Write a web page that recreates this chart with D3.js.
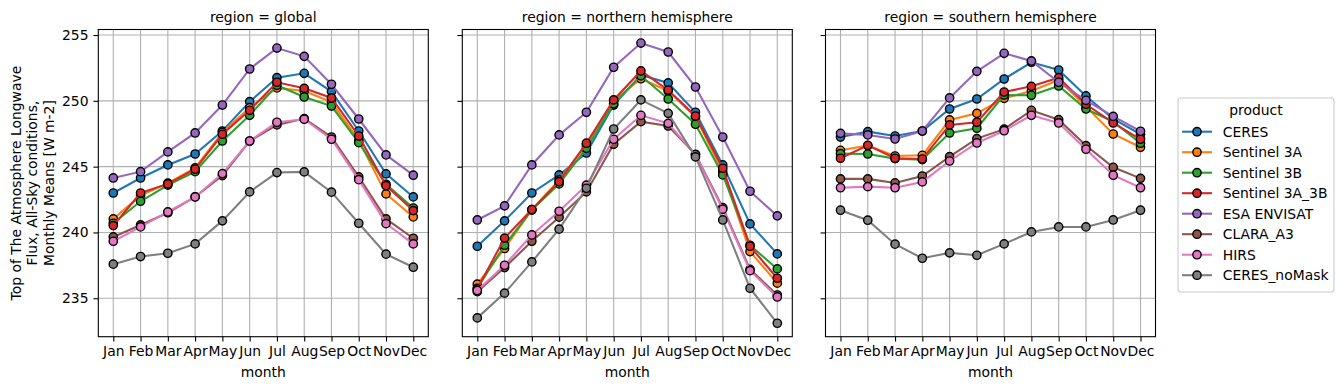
<!DOCTYPE html>
<html>
<head>
<meta charset="utf-8">
<script src="https://cdn.jsdelivr.net/npm/d3@7"></script>
<style>
  body { margin: 0; background: #fff; }
  svg { font-family: "DejaVu Sans", sans-serif; }
</style>
</head>
<body>
<script>
var months = ['Jan','Feb','Mar','Apr','May','Jun','Jul','Aug','Sep','Oct','Nov','Dec'];
var products = ['CERES','Sentinel 3A','Sentinel 3B','Sentinel 3A_3B','ESA ENVISAT','CLARA_A3','HIRS','CERES_noMask'];
var colors = ['#1f77b4','#ff7f0e','#2ca02c','#d62728','#9467bd','#8c564b','#e377c2','#7f7f7f'];
var regions = ['global','northern hemisphere','southern hemisphere'];
var yTicks = [235,240,245,250,255];

// one row per product, same order as products
var globalVals = [
  [243.0, 244.14, 245.13, 245.96, 247.71, 249.94, 251.76, 252.09, 250.70, 247.71, 244.45, 242.7],
  [241.03, 242.8, 243.75, 244.9, 247.6, 249.48, 250.98, 250.75, 249.9, 247.0, 242.93, 241.18],
  [240.7, 242.37, 243.6, 244.62, 246.95, 248.9, 251.18, 250.29, 249.6, 246.82, 243.66, 241.86],
  [240.52, 243.0, 243.69, 244.8, 247.46, 249.28, 251.41, 250.95, 250.22, 247.33, 243.56, 241.66],
  [244.14, 244.62, 246.12, 247.56, 249.68, 252.42, 254.01, 253.38, 251.26, 248.62, 245.89, 244.35],
  [239.66, 240.57, 241.5, 242.7, 244.32, 246.95, 248.17, 248.65, 247.25, 244.22, 241.03, 239.56],
  [239.33, 240.42, 241.56, 242.7, 244.47, 246.95, 248.37, 248.6, 247.08, 244.01, 240.67, 239.13],
  [237.59, 238.17, 238.42, 239.13, 240.88, 243.08, 244.55, 244.6, 243.06, 240.7, 238.35, 237.36]
];
var northVals = [
  [238.95, 240.88, 243.0, 244.37, 246.04, 249.68, 251.96, 251.36, 249.13, 245.13, 240.65, 238.37],
  [236.07, 238.78, 241.74, 243.99, 246.65, 249.99, 251.68, 250.75, 248.77, 244.62, 238.55, 236.15],
  [235.76, 239.03, 241.7, 243.69, 246.39, 249.78, 251.9, 250.14, 248.22, 244.37, 239.03, 237.23],
  [235.7, 239.57, 241.74, 243.86, 246.78, 250.07, 252.27, 250.82, 248.85, 244.88, 238.95, 236.52],
  [240.95, 242.02, 245.13, 247.41, 249.13, 252.55, 254.39, 253.71, 251.05, 247.25, 243.13, 241.26],
  [235.5, 237.33, 239.33, 241.16, 243.08, 246.7, 248.42, 248.09, 245.94, 241.89, 237.2, 235.25],
  [235.59, 237.51, 239.81, 241.61, 243.59, 247.08, 248.9, 248.29, 245.9, 241.76, 237.1, 235.1],
  [233.51, 235.39, 237.76, 240.25, 243.36, 247.86, 250.07, 249.05, 245.74, 240.95, 235.76, 233.1]
];
var southVals = [
  [247.25, 247.66, 247.33, 247.71, 249.38, 250.14, 251.66, 252.93, 252.34, 250.37, 248.62, 247.46],
  [246.24, 246.6, 245.81, 245.86, 248.55, 249.05, 250.19, 250.75, 251.58, 249.56, 247.48, 246.47],
  [245.99, 245.96, 245.61, 245.53, 247.56, 247.92, 250.44, 250.42, 251.13, 249.38, 248.42, 246.78],
  [245.64, 246.62, 245.64, 245.58, 248.17, 248.37, 250.67, 251.1, 251.76, 249.74, 248.32, 247.08],
  [247.53, 247.41, 247.1, 247.71, 250.22, 252.24, 253.61, 253.03, 251.41, 250.04, 248.82, 247.69],
  [244.07, 244.07, 243.76, 244.29, 245.76, 247.13, 247.85, 249.28, 248.57, 246.6, 244.95, 244.11],
  [243.4, 243.48, 243.4, 243.84, 245.43, 246.8, 247.73, 248.9, 248.32, 246.32, 244.35, 243.4],
  [241.69, 240.93, 239.11, 238.04, 238.45, 238.27, 239.13, 240.04, 240.42, 240.42, 240.95, 241.69]
];
var regionVals = [globalVals, northVals, southVals];

var width = 1340, height = 390;
var fs = 13.9;
var panelX = [98.3, 462.3, 825.5];
var panelW = 330;
var plotTop = 29.5, plotBottom = 336.7;

var svg = d3.select('body').append('svg')
    .attr('width', width)
    .attr('height', height);

var y = d3.scaleLinear().domain([232.08, 255.42]).range([plotBottom, plotTop]);

for (var p = 0; p < 3; p++) {
  var x0 = panelX[p];
  var x = d3.scalePoint().domain(months).range([x0, x0 + panelW]).padding(0.55);
  var grp = svg.append('g');

  // grid
  grp.selectAll('line.vgrid').data(months).enter().append('line')
      .attr('x1', function(d) { return x(d); }).attr('x2', function(d) { return x(d); })
      .attr('y1', plotTop).attr('y2', plotBottom)
      .attr('stroke', '#b0b0b0').attr('stroke-width', 1.1);
  grp.selectAll('line.hgrid').data(yTicks).enter().append('line')
      .attr('y1', function(d) { return y(d); }).attr('y2', function(d) { return y(d); })
      .attr('x1', x0).attr('x2', x0 + panelW)
      .attr('stroke', '#b0b0b0').attr('stroke-width', 1.1);

  var line = d3.line()
      .x(function(d, i) { return x(months[i]); })
      .y(function(d) { return y(d); });

  var vals = regionVals[p];
  for (var s = 0; s < products.length; s++) {
    var sg = grp.append('g');
    sg.append('path')
        .attr('d', line(vals[s]))
        .attr('fill', 'none')
        .attr('stroke', colors[s])
        .attr('stroke-width', 2.08);
    sg.selectAll('circle').data(vals[s]).enter().append('circle')
        .attr('cx', function(d, i) { return x(months[i]); })
        .attr('cy', function(d) { return y(d); })
        .attr('r', 4.15)
        .attr('fill', colors[s])
        .attr('stroke', '#000')
        .attr('stroke-width', 1.39);
  }

  // axes
  var xAxis = d3.axisBottom(x).tickSize(4.9).tickPadding(4.9);
  var gx = grp.append('g').attr('transform', 'translate(0,' + plotBottom + ')').call(xAxis);
  var yAxis = d3.axisLeft(y).tickValues(yTicks).tickSize(4.9).tickPadding(4.9);
  if (p > 0) yAxis.tickFormat('');
  var gy = grp.append('g').attr('transform', 'translate(' + x0 + ',0)').call(yAxis);
  [gx, gy].forEach(function(g) {
    g.select('.domain').remove();
    g.selectAll('line').attr('stroke', '#000').attr('stroke-width', 1.1);
    g.selectAll('text').attr('font-size', fs).attr('fill', '#000')
        .attr('font-family', '"DejaVu Sans", sans-serif');
  });

  grp.append('rect')
      .attr('x', x0).attr('y', plotTop)
      .attr('width', panelW).attr('height', plotBottom - plotTop)
      .attr('fill', 'none').attr('stroke', '#000').attr('stroke-width', 1.1);

  grp.append('text')
      .attr('x', x0 + panelW / 2).attr('y', 22)
      .attr('text-anchor', 'middle').attr('font-size', fs)
      .text('region = ' + regions[p]);
  grp.append('text')
      .attr('x', x0 + panelW / 2).attr('y', 377)
      .attr('text-anchor', 'middle').attr('font-size', fs)
      .text('month');
}

// y label
var ylab = ['Top of The Atmosphere Longwave', 'Flux, All-Sky conditions,', 'Monthly Means [W m-2]'];
var cy = (plotTop + plotBottom) / 2;
ylab.forEach(function(t, i) {
  var bx = 20.5 + i * 16.7;
  svg.append('text')
      .attr('transform', 'translate(' + bx + ',' + cy + ') rotate(-90)')
      .attr('text-anchor', 'middle').attr('font-size', fs)
      .text(t);
});

// legend
var leg = svg.append('g');
leg.append('rect')
    .attr('x', 1178).attr('y', 98).attr('width', 156).attr('height', 194)
    .attr('rx', 3).attr('fill', '#fff').attr('fill-opacity', 0.8)
    .attr('stroke', '#cccccc').attr('stroke-width', 1.1);
leg.append('text')
    .attr('x', 1256).attr('y', 115)
    .attr('text-anchor', 'middle').attr('font-size', fs)
    .text('product');
var items = leg.selectAll('g.item').data(products).enter().append('g')
    .attr('transform', function(d, i) { return 'translate(0,' + (131.7 + i * 20.5) + ')'; });
items.append('line')
    .attr('x1', 1182).attr('x2', 1212).attr('y1', 0).attr('y2', 0)
    .attr('stroke', function(d, i) { return colors[i]; }).attr('stroke-width', 2.08);
items.append('circle')
    .attr('cx', 1197).attr('cy', 0).attr('r', 4.15)
    .attr('fill', function(d, i) { return colors[i]; })
    .attr('stroke', '#000').attr('stroke-width', 1.39);
items.append('text')
    .attr('x', 1222.7).attr('y', 5)
    .attr('font-size', fs)
    .text(function(d) { return d; });
</script>
</body>
</html>
